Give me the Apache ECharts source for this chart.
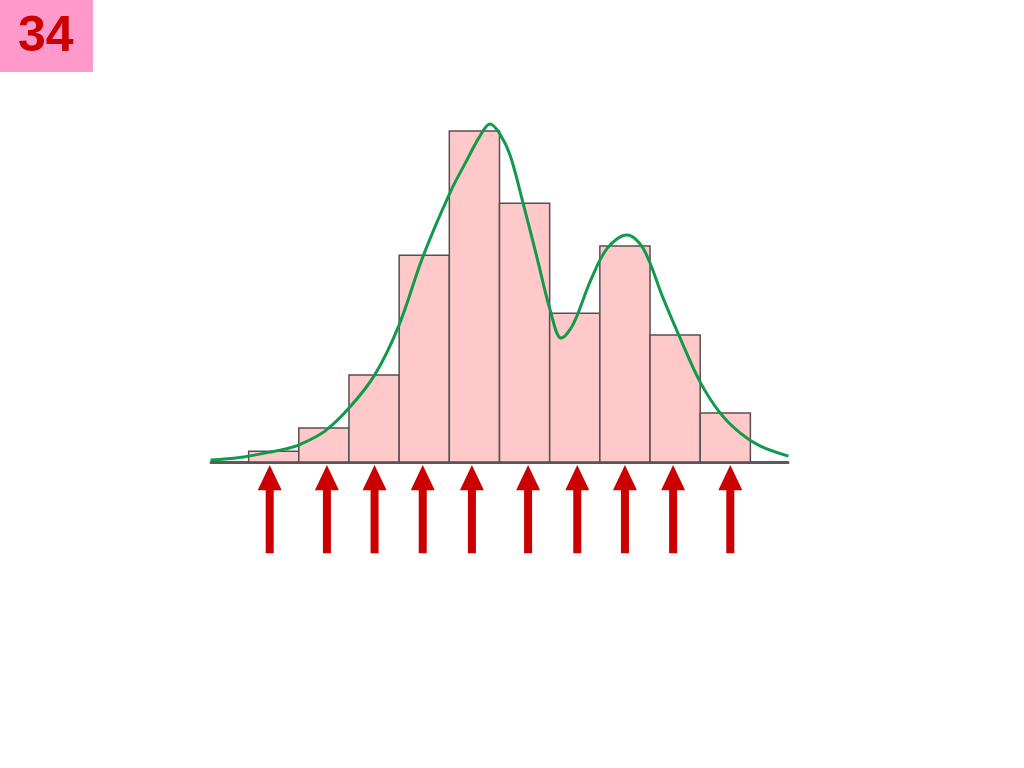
<!DOCTYPE html>
<html>
<head>
<meta charset="utf-8">
<script src="https://cdn.jsdelivr.net/npm/echarts@6/dist/echarts.min.js"></script>
<style>
html,body{margin:0;padding:0;background:#fff;}
#chart{width:1024px;height:768px;}
</style>
</head>
<body>
<div id="chart"></div>
<script>
// Histogram bins (start of each bin, width 1) and bar heights
const binStarts = [0, 1, 2, 3, 4, 5, 6, 7, 8, 9];
const binHeights = [3.3, 10.3, 26.3, 62.5, 100, 78.2, 45.0, 65.3, 38.4, 14.8];
// Smooth density curve points (x, y)
const curveX = [-0.76, -0.18, 0.42, 0.72, 1.02, 1.52, 2.00, 2.51, 2.99, 3.47, 4.01, 4.35, 4.61, 4.81, 5.01, 5.21, 5.47, 5.75, 6.01, 6.23, 6.47, 6.81, 7.15, 7.54, 7.86, 8.26, 8.60, 9.00, 9.40, 9.80, 10.20, 10.76];
const curveY = [0.60, 1.36, 3.02, 3.93, 5.29, 9.37, 16.31, 26.28, 41.09, 61.93, 81.27, 91.24, 98.49, 102.11, 99.09, 92.75, 78.25, 61.63, 45.92, 37.46, 41.69, 54.68, 64.65, 68.58, 64.65, 49.55, 37.46, 24.17, 14.80, 8.76, 4.83, 1.81];
// Arrow positions along the x axis
const arrowX = [0.42, 1.56, 2.51, 3.47, 4.45, 5.57, 6.55, 7.5, 8.46, 9.6];
// Slide number
const slideLabel = "34";

const barData = binStarts.map((s, i) => [s, s + 1, binHeights[i]]);
const curveData = curveX.map((x, i) => [x, curveY[i]]);
const arrowData = arrowX.map(x => [x]);

const chart = echarts.init(document.getElementById('chart'));
chart.setOption({
  animation: false,
  backgroundColor: '#ffffff',
  grid: { left: 211, width: 577, top: 98, height: 463.4 },
  xAxis: {
    type: 'value', min: -0.75, max: 10.75,
    axisLine: { show: true, onZero: true, lineStyle: { color: '#5a5a5a', width: 3 } },
    axisTick: { show: false }, axisLabel: { show: false }, splitLine: { show: false }
  },
  yAxis: {
    type: 'value', min: -30, max: 110,
    axisLine: { show: false }, axisTick: { show: false }, axisLabel: { show: false }, splitLine: { show: false }
  },
  graphic: [
    { type: 'rect', left: 0, top: 0, shape: { width: 93, height: 72 }, style: { fill: '#ff99cc' }, z: 10 },
    { type: 'text', left: 18, top: 12, style: { text: slideLabel, fill: '#cc0000', font: 'bold 50px "Liberation Sans", Arial, sans-serif' }, z: 11 }
  ],
  series: [
    {
      type: 'custom',
      data: barData,
      encode: { x: [0, 1], y: 2 },
      renderItem: function (params, api) {
        const p0 = api.coord([api.value(0), 0]);
        const p1 = api.coord([api.value(1), api.value(2)]);
        return {
          type: 'rect',
          shape: { x: p0[0], y: p1[1], width: p1[0] - p0[0], height: p0[1] - p1[1] },
          style: { fill: '#ffc9c9', stroke: '#555050', lineWidth: 1.5 }
        };
      },
      z: 2
    },
    {
      type: 'line',
      data: curveData,
      smooth: 0.35,
      showSymbol: false,
      lineStyle: { color: '#129a4c', width: 3 },
      z: 4
    },
    {
      type: 'custom',
      data: arrowData,
      encode: { x: 0 },
      clip: false,
      renderItem: function (params, api) {
        const x = api.value(0);
        const tip = api.coord([x, -0.9]);
        const base = api.coord([x, -8.5]);
        const bot = api.coord([x, -27.5]);
        const cx = tip[0];
        return {
          type: 'polygon',
          shape: { points: [
            [cx, tip[1]], [cx + 12, base[1]], [cx + 4, base[1]], [cx + 4, bot[1]],
            [cx - 4, bot[1]], [cx - 4, base[1]], [cx - 12, base[1]]
          ] },
          style: { fill: '#cc0000' }
        };
      },
      z: 3
    }
  ]
});
</script>
</body>
</html>
